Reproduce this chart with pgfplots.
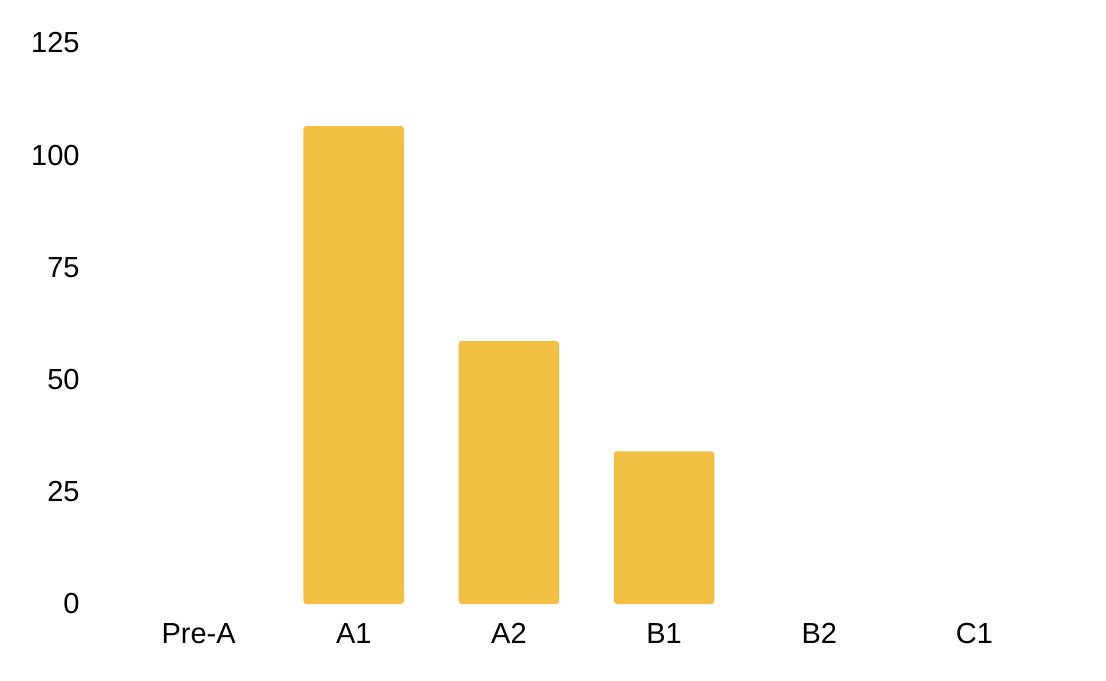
\documentclass[border=0pt]{standalone}
\usepackage{fontspec}
\setmainfont{Liberation Sans}
\usepackage{pgfplots}
\pgfplotsset{compat=1.18}

\definecolor{barcol}{HTML}{F1BF42}

\begin{document}
\begin{tikzpicture}
\begin{axis}[
    name=ax,
    scale only axis,
    width=465.5pt, height=280.5pt,
    xmin=-0.5, xmax=5.5,
    ymin=0, ymax=125,
    xtick={0,1,2,3,4,5},
    xticklabels={Pre-A, A1, A2, B1, B2, C1},
    ytick={0,25,50,75,100,125},
    axis line style={draw=none},
    major tick length=0pt,
    tick style={draw=none},
    /pgf/number format/assume math mode=true,
    ticklabel style={font=\fontsize{14.5}{17}\selectfont, inner sep=0pt},
    yticklabel style={anchor=east, xshift=-20.5pt},
    xticklabel style={anchor=base, yshift=-19.7pt},
    ybar, bar width=50.3pt,
    clip=false,
    unbounded coords=discard,
]
% empty categories hold 0 and draw nothing
\addplot[fill=barcol, draw=none, rounded corners=1.5pt,
    y filter/.expression={y==0 ? nan : y}]
    coordinates {(0,0) (1,106.5) (2,58.6) (3,34.0) (4,0) (5,0)};
\end{axis}
\useasboundingbox ([xshift=-60.5pt, yshift=-38pt]ax.south west) rectangle ([xshift=-60.5pt+553pt, yshift=302pt]ax.south west);
\end{tikzpicture}
\end{document}
